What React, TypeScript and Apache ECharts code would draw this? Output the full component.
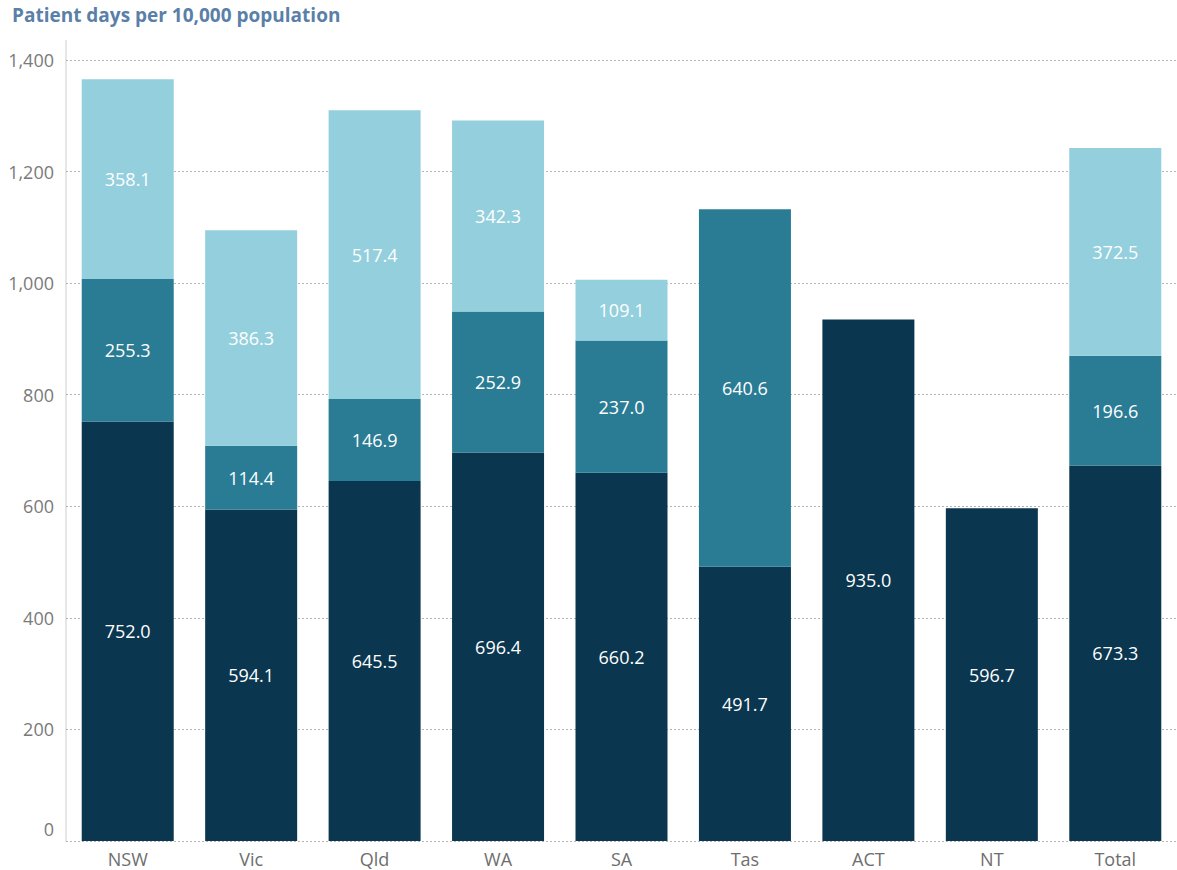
import React, { useEffect, useRef } from "react";
import * as echarts from "echarts";

const categories = ["NSW", "Vic", "Qld", "WA", "SA", "Tas", "ACT", "NT", "Total"];
const seriesDark = [752.0, 594.1, 645.5, 696.4, 660.2, 491.7, 935.0, 596.7, 673.3];
const seriesMid = [255.3, 114.4, 146.9, 252.9, 237.0, 640.6, null, null, 196.6];
const seriesLight = [358.1, 386.3, 517.4, 342.3, 109.1, null, null, null, 372.5];
const seriesNames = ["Series A", "Series B", "Series C"];
const colors = ["#0a3650", "#2a7c95", "#94cfdd"];
const yTicks = { min: 0, max: 1400, interval: 200 };

export default function App() {
  const ref = useRef<HTMLDivElement>(null);
  useEffect(() => {
    if (!ref.current) return;
    const chart = echarts.init(ref.current, null, { renderer: "svg" });
    const mk = (name: string, data: (number | null)[], color: string) => ({
      name,
      type: "bar",
      stack: "total",
      data,
      barWidth: 92,
      itemStyle: { color },
      label: {
        show: true,
        position: "inside",
        color: "#ffffff",
        fontSize: 18,
        fontFamily: "Open Sans",
        formatter: (p: any) => (p.value == null ? "" : Number(p.value).toFixed(1)),
      },
    });
    chart.setOption({
      animation: false,
      textStyle: { fontFamily: "Open Sans" },
      title: {
        text: "Patient days per 10,000 population",
        left: 7,
        top: 0,
        textStyle: { fontSize: 19, fontWeight: "bold", color: "#5a7fa8", fontFamily: "Open Sans" },
      },
      grid: { left: 66, right: -2, top: 60, bottom: 29, containLabel: false },
      graphic: [
        { type: "rect", shape: { x: 65, y: 40, width: 2, height: 802 }, style: { fill: "#e6e6e6" }, z: 0 },
      ],
      xAxis: {
        type: "category",
        data: categories,
        axisLine: { show: false },
        axisTick: { show: false },
        axisLabel: { color: "#6e6e6e", fontSize: 18, margin: 9 },
      },
      yAxis: {
        type: "value",
        min: yTicks.min,
        max: yTicks.max,
        interval: yTicks.interval,
        axisLine: { show: false },
        axisTick: { show: false },
        axisLabel: {
          color: "#7a7a7a",
          fontSize: 18,
          margin: 12,
          formatter: (v: number) => (v === 0 ? "{zero|0}" : v.toLocaleString("en-US")),
          rich: { zero: { fontSize: 18, color: "#7a7a7a", padding: [0, 0, 24, 0] } },
        },
        splitLine: { show: true, lineStyle: { color: "#b5b5b5", type: [2, 2], width: 1 } },
      },
      series: [
        mk(seriesNames[0], seriesDark, colors[0]),
        mk(seriesNames[1], seriesMid, colors[1]),
        mk(seriesNames[2], seriesLight, colors[2]),
      ],
    });
    return () => chart.dispose();
  }, []);
  return (
    <div
      ref={ref}
      style={{ position: "fixed", left: 0, top: 0, width: 1177, height: 870, background: "#fff" }}
    />
  );
}
